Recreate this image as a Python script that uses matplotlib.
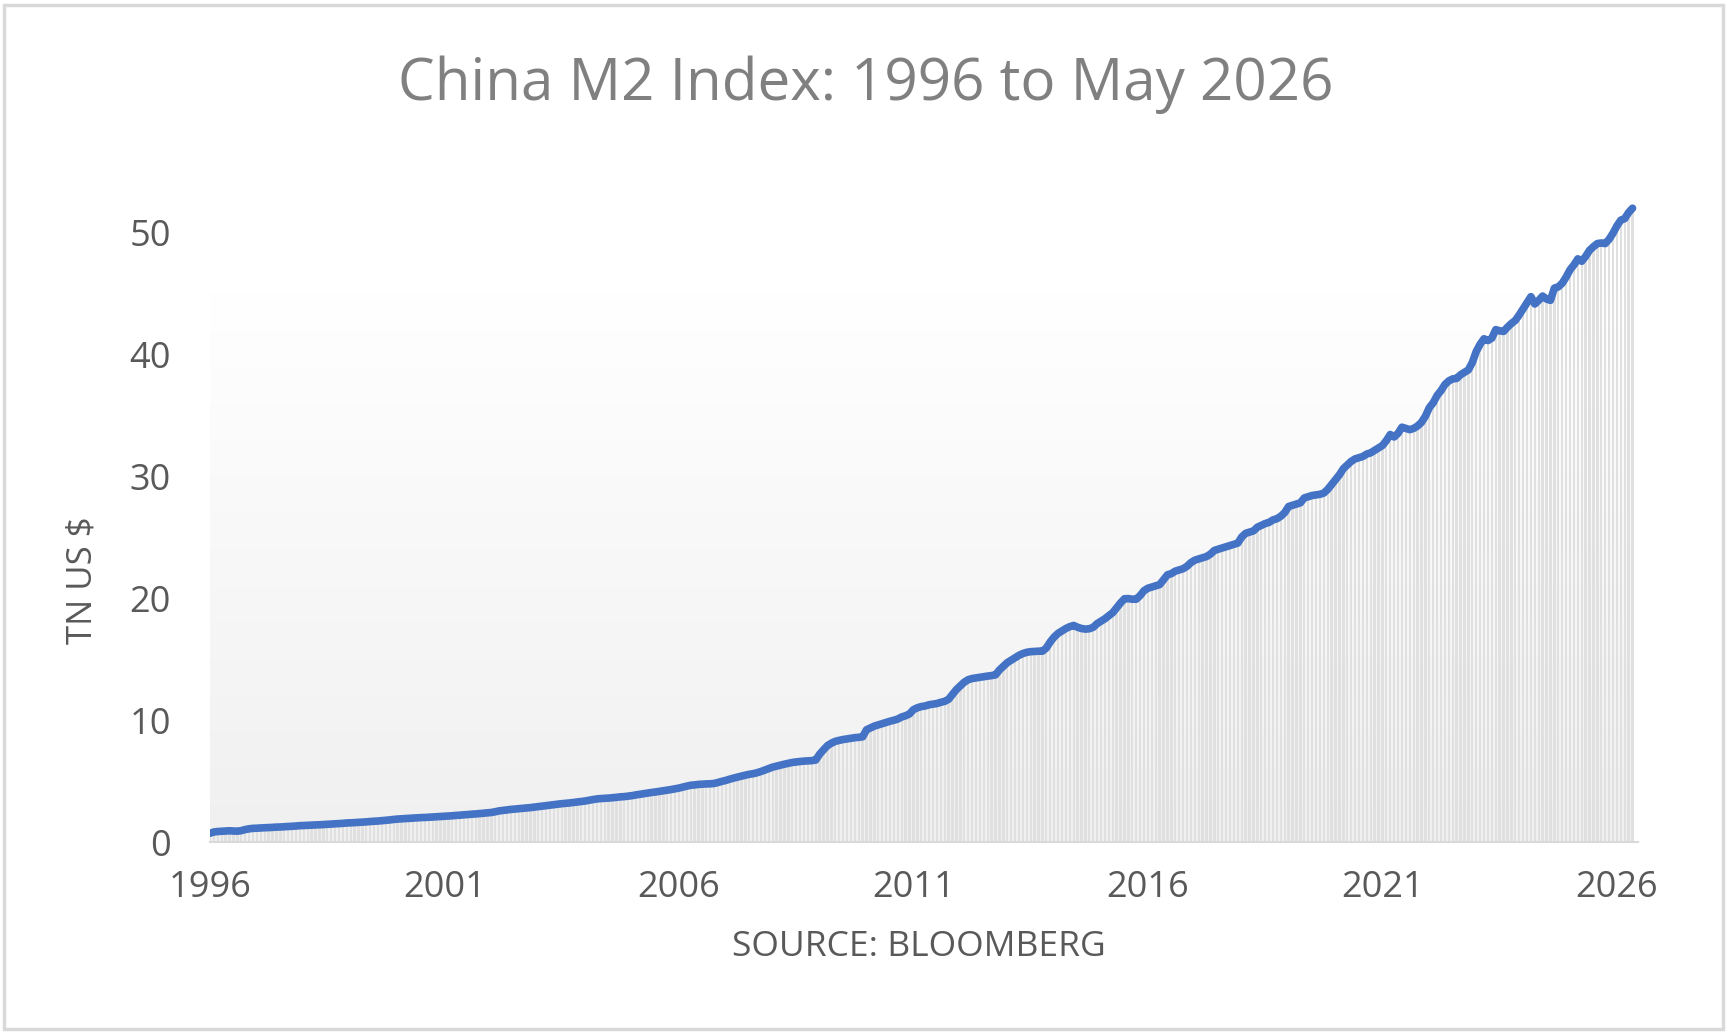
import matplotlib
matplotlib.use("Agg")
import matplotlib.pyplot as plt
import numpy as np
import pandas as pd
from matplotlib.patches import Rectangle

# China M2, TN US$, monthly from Jan 1996
m2_1996_2005 = [
    0.72, 0.82, 0.86, 0.88, 0.90, 0.92, 0.90, 0.89, 0.93, 1.02, 1.08, 1.12,
    1.13, 1.15, 1.17, 1.18, 1.20, 1.22, 1.23, 1.25, 1.27, 1.29, 1.31, 1.34,
    1.35, 1.37, 1.38, 1.40, 1.41, 1.43, 1.45, 1.47, 1.49, 1.51, 1.53, 1.56,
    1.57, 1.59, 1.61, 1.63, 1.65, 1.68, 1.70, 1.72, 1.75, 1.78, 1.81, 1.85,
    1.88, 1.90, 1.92, 1.94, 1.96, 1.98, 2.00, 2.01, 2.03, 2.05, 2.07, 2.09,
    2.11, 2.13, 2.15, 2.18, 2.20, 2.23, 2.25, 2.28, 2.30, 2.33, 2.36, 2.39,
    2.42, 2.48, 2.55, 2.59, 2.63, 2.67, 2.70, 2.73, 2.76, 2.79, 2.82, 2.86,
    2.90, 2.94, 2.98, 3.02, 3.06, 3.10, 3.14, 3.17, 3.20, 3.24, 3.28, 3.32,
    3.36, 3.42, 3.48, 3.53, 3.56, 3.58, 3.60, 3.63, 3.66, 3.70, 3.72, 3.76,
    3.80, 3.86, 3.91, 3.96, 4.01, 4.06, 4.10, 4.15, 4.20, 4.25, 4.30, 4.36,
]
m2_2006_2015 = [
    4.42, 4.50, 4.58, 4.65, 4.68, 4.72, 4.74, 4.76, 4.77, 4.80, 4.88, 4.97,
    5.05, 5.15, 5.24, 5.32, 5.40, 5.48, 5.55, 5.60, 5.68, 5.78, 5.90, 6.02,
    6.14, 6.22, 6.30, 6.38, 6.45, 6.52, 6.56, 6.60, 6.63, 6.65, 6.67, 6.72,
    7.20, 7.56, 7.90, 8.10, 8.25, 8.33, 8.40, 8.45, 8.50, 8.55, 8.58, 8.62,
    9.20, 9.35, 9.50, 9.60, 9.70, 9.80, 9.90, 9.98, 10.08, 10.25, 10.35, 10.50,
    10.85, 11.00, 11.10, 11.15, 11.25, 11.30, 11.35, 11.45, 11.53, 11.70, 12.10, 12.50,
    12.80, 13.10, 13.30, 13.40, 13.45, 13.50, 13.55, 13.60, 13.64, 13.70, 14.10, 14.40,
    14.70, 14.90, 15.10, 15.30, 15.45, 15.55, 15.60, 15.62, 15.64, 15.64, 15.90, 16.40,
    16.80, 17.10, 17.30, 17.50, 17.65, 17.75, 17.60, 17.50, 17.45, 17.48, 17.60, 17.90,
    18.10, 18.30, 18.55, 18.80, 19.20, 19.60, 19.94, 19.95, 19.90, 19.90, 20.20, 20.60,
]
m2_2016_2026 = [
    20.80, 20.90, 21.00, 21.10, 21.50, 21.90, 22.00, 22.20, 22.30, 22.40, 22.60, 22.90,
    23.10, 23.20, 23.30, 23.40, 23.60, 23.90, 24.00, 24.10, 24.20, 24.30, 24.40, 24.50,
    25.00, 25.30, 25.40, 25.50, 25.80, 25.95, 26.10, 26.20, 26.40, 26.50, 26.70, 27.00,
    27.50, 27.60, 27.70, 27.80, 28.20, 28.30, 28.40, 28.45, 28.50, 28.60, 28.90, 29.30,
    29.70, 30.10, 30.60, 30.90, 31.20, 31.40, 31.50, 31.60, 31.80, 31.90, 32.10, 32.30,
    32.50, 32.90, 33.40, 33.20, 33.50, 34.00, 33.90, 33.80, 33.90, 34.10, 34.40, 34.90,
    35.60, 36.00, 36.60, 37.00, 37.50, 37.80, 37.96, 38.00, 38.30, 38.50, 38.70, 39.30,
    40.20, 40.80, 41.25, 41.10, 41.30, 42.00, 41.90, 41.85, 42.20, 42.50, 42.75, 43.20,
    43.70, 44.20, 44.70, 44.10, 44.40, 44.75, 44.50, 44.40, 45.40, 45.50, 45.80, 46.30,
    46.90, 47.30, 47.80, 47.60, 48.00, 48.50, 48.80, 49.05, 49.10, 49.05, 49.40, 49.90,
    50.50, 50.97, 51.10, 51.60, 51.95,
]
year_ticks = [1996, 2001, 2006, 2011, 2016, 2021, 2026]
y_ticks = [0, 10, 20, 30, 40, 50]

m2 = np.array(m2_1996_2005 + m2_2006_2015 + m2_2016_2026)
dates = pd.date_range("1996-01-01", periods=len(m2), freq="MS")
x = dates.year + (dates.month - 1) / 12.0

plt.rcParams["font.family"] = ["Open Sans", "DejaVu Sans"]
txt = "#595959"

fig = plt.figure(figsize=(17.32, 10.35), dpi=100)
ax = fig.add_axes([210 / 1732, 193 / 1035, 1428 / 1732, 646.6 / 1035])
ax.set_xlim(1996, 2026.45)
ax.set_ylim(0, 53)

# gradient plot-area background
grad = np.linspace(1, 0, 256).reshape(-1, 1)
ax.imshow(grad, extent=[1996, x[-1], 0, 45], aspect="auto",
          cmap=matplotlib.colors.LinearSegmentedColormap.from_list("g", ["#f0f0f0", "#ffffff"]),
          vmin=0, vmax=1, zorder=0, interpolation="bicubic")

ax.bar(x, m2, width=0.6 / 12, color="#e0e0e0", linewidth=0, zorder=1)
ax.plot(x, m2, color="#4472C4", lw=5.5, solid_capstyle="round",
        solid_joinstyle="round", zorder=3)

for s in ["top", "right", "left"]:
    ax.spines[s].set_visible(False)
ax.spines["bottom"].set_color("#d9d9d9")
ax.spines["bottom"].set_linewidth(1.5)

ax.set_xticks(year_ticks)
ax.set_xticklabels([str(y) for y in year_ticks])
ax.set_yticks(y_ticks)
ax.tick_params(axis="both", length=0, labelsize=26, labelcolor=txt)
ax.tick_params(axis="y", pad=28)
ax.tick_params(axis="x", pad=20)

fig.text(83 / 1732, 1 - 580 / 1035, "TN US $", rotation=90, fontsize=25,
         color=txt, ha="center", va="center")
fig.text(919 / 1732, 1 - 947 / 1035, "SOURCE: BLOOMBERG", fontsize=25.5,
         color=txt, ha="center", va="center")
fig.text(866 / 1732, 1 - 85 / 1035, "China M2 Index: 1996 to May 2026",
         fontsize=42, color="#808080", ha="center", va="center")

fig.patches.append(Rectangle((4 / 1732, 6 / 1035), 1719 / 1732, 1024 / 1035,
                             transform=fig.transFigure, fill=False,
                             edgecolor="#d9d9d9", linewidth=2.5))

fig.savefig("out.png", dpi=100)
